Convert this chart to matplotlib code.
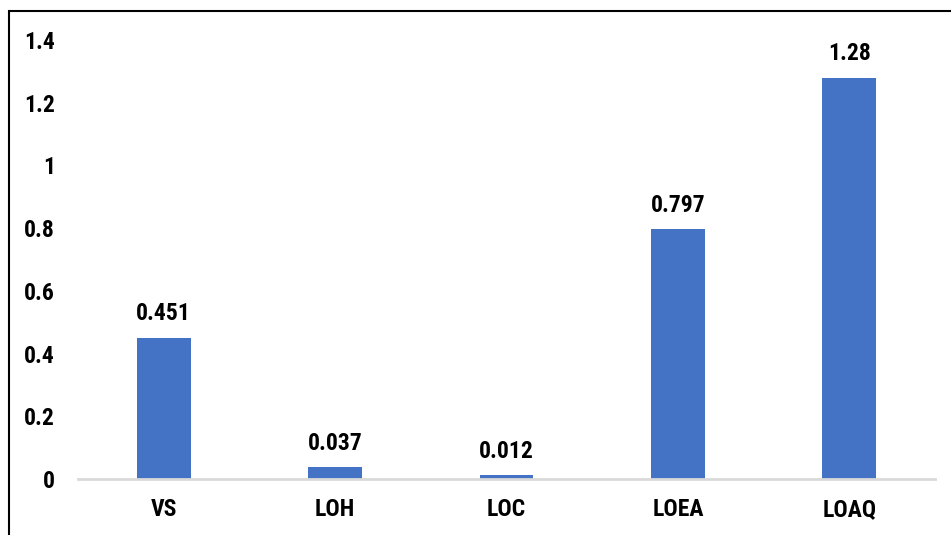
import matplotlib
matplotlib.use("Agg")
import matplotlib.pyplot as plt
from matplotlib import font_manager
from matplotlib.patches import Rectangle

categories = ["VS", "LOH", "LOC", "LOEA", "LOAQ"]
values = [0.451, 0.037, 0.012, 0.797, 1.28]
value_labels = ["0.451", "0.037", "0.012", "0.797", "1.28"]
yticks = [0, 0.2, 0.4, 0.6, 0.8, 1.0, 1.2, 1.4]
ytick_labels = ["0", "0.2", "0.4", "0.6", "0.8", "1", "1.2", "1.4"]

names = {f.name for f in font_manager.fontManager.ttflist}
family = "Liberation Sans Narrow" if "Liberation Sans Narrow" in names else "Roboto Condensed" if "Roboto Condensed" in names else "Liberation Sans"
plt.rcParams["font.family"] = [family, "DejaVu Sans"]

fig = plt.figure(figsize=(9.51, 5.35), dpi=100)
ax = fig.add_axes([78 / 951, 1 - 479 / 535, 857 / 951, 439 / 535])

x = list(range(len(categories)))
ax.bar(x, values, width=0.315, color="#4472C4", zorder=2)

for xi, v, lab in zip(x, values, value_labels):
    ax.annotate(lab, (xi, v), xytext=(0, 9), textcoords="offset points",
                ha="center", va="bottom", fontsize=17, fontweight="bold")

ax.set_xlim(-0.5, len(categories) - 0.5)
ax.set_ylim(0, 1.4)
ax.set_yticks(yticks)
ax.set_yticklabels(ytick_labels, fontsize=17, fontweight="bold")
ax.set_xticks(x)
ax.set_xticklabels(categories, fontsize=17, fontweight="bold")
ax.tick_params(axis="y", length=0, pad=16.5)
ax.tick_params(axis="x", length=0, pad=14)

for side in ("top", "right", "left"):
    ax.spines[side].set_visible(False)
ax.spines["bottom"].set_color("#D9D9D9")
ax.spines["bottom"].set_linewidth(2)

# outer frame, open at the right and bottom edges
fig.patches.append(Rectangle((9 / 951, -0.05), 1.2, 1 - 11 / 535 + 0.05,
                             transform=fig.transFigure, fill=False,
                             edgecolor="black", linewidth=1.5))

fig.savefig("out.png", dpi=100)
